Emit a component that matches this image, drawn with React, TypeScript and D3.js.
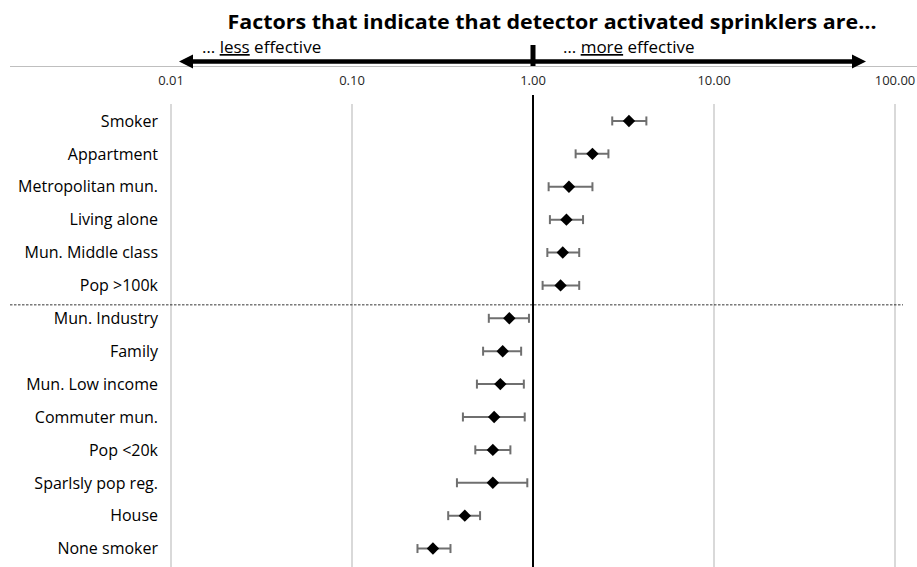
import React from "react";
import * as d3 from "d3";

// Odds ratios with confidence intervals per factor
const categories = [
  "Smoker",
  "Appartment",
  "Metropolitan mun.",
  "Living alone",
  "Mun. Middle class",
  "Pop >100k",
  "Mun. Industry",
  "Family",
  "Mun. Low income",
  "Commuter mun.",
  "Pop <20k",
  "Sparlsly pop reg.",
  "House",
  "None smoker",
];
const estimates = [3.39, 2.13, 1.58, 1.53, 1.46, 1.42, 0.74, 0.68, 0.66, 0.61, 0.6, 0.6, 0.42, 0.28];
const lowerBounds = [2.74, 1.72, 1.22, 1.24, 1.2, 1.13, 0.57, 0.53, 0.49, 0.41, 0.48, 0.38, 0.34, 0.23];
const upperBounds = [4.23, 2.61, 2.13, 1.89, 1.8, 1.8, 0.95, 0.86, 0.89, 0.9, 0.75, 0.93, 0.51, 0.35];

const tickValues = [0.01, 0.1, 1, 10, 100];
const tickLabels = ["0.01", "0.10", "1.00", "10.00", "100.00"];

// Number of factors in the upper ("more effective") group
const upperGroupSize = 6;

const W = 917;
const H = 567;
const FONT = "'Open Sans', Lato, sans-serif";

export default function App() {
  const x = d3.scaleLog().domain([0.01, 100]).range([171, 895]);
  const y = d3.scaleBand<string>().domain(categories).range([104.5, 565]);
  const half = y.bandwidth() / 2;
  const plotTop = 104;
  const arrowY = 61.5;
  const arrowLeft = x(0.01) + 8;
  const arrowRight = x(100) - 29;
  const head = 14;
  const headH = 7;
  const dividerY = (y(categories[upperGroupSize]) as number) + 3;

  return (
    <svg
      width={W}
      height={H}
      style={{ position: "absolute", left: 0, top: 0, background: "#fff" }}
      fontFamily={FONT}
    >
      {/* Title */}
      <text
        x={552}
        y={28.5}
        textAnchor="middle"
        fontSize={20}
        fontWeight="bold"
        fill="#000"
        textLength={649}
        lengthAdjust="spacingAndGlyphs"
      >
        Factors that indicate that detector activated sprinklers are…
      </text>

      {/* Direction annotations */}
      <text x={202} y={53} fontSize={17} fill="#000">
        …{" "}
        <tspan textDecoration="underline">less</tspan> effective
      </text>
      <text x={563} y={53} fontSize={17} fill="#000">
        …{" "}
        <tspan textDecoration="underline">more</tspan> effective
      </text>

      {/* Light axis line */}
      <line x1={10} x2={W} y1={66.5} y2={66.5} stroke="#bfbfbf" strokeWidth={1} />

      {/* Double-headed arrow */}
      <line
        x1={arrowLeft + head - 1}
        x2={arrowRight - head + 1}
        y1={arrowY}
        y2={arrowY}
        stroke="#000"
        strokeWidth={4.5}
      />
      <polygon
        points={`${arrowLeft},${arrowY} ${arrowLeft + head},${arrowY - headH} ${arrowLeft + head},${arrowY + headH}`}
        fill="#000"
      />
      <polygon
        points={`${arrowRight},${arrowY} ${arrowRight - head},${arrowY - headH} ${arrowRight - head},${arrowY + headH}`}
        fill="#000"
      />
      <line x1={x(1)} x2={x(1)} y1={45} y2={66} stroke="#000" strokeWidth={5} />

      {/* Tick labels */}
      {tickValues.map((t, i) => (
        <text key={t} x={x(t)} y={85} textAnchor="middle" fontSize={13} fill="#262626">
          {tickLabels[i]}
        </text>
      ))}

      {/* Gridlines */}
      {tickValues
        .filter((t) => t !== 1)
        .map((t) => (
          <line key={t} x1={x(t)} x2={x(t)} y1={plotTop} y2={H} stroke="#d9d9d9" strokeWidth={2} />
        ))}
      <line x1={x(1)} x2={x(1)} y1={95} y2={H} stroke="#000" strokeWidth={2} />

      {/* Group divider */}
      <line
        x1={10}
        x2={903}
        y1={dividerY}
        y2={dividerY}
        stroke="#000"
        strokeWidth={0.8}
        strokeDasharray="2.5,1.5"
      />

      {/* Category labels */}
      {categories.map((c) => (
        <text
          key={c}
          x={158}
          y={(y(c) as number) + half}
          dy="0.36em"
          textAnchor="end"
          fontSize={16}
          fill="#000"
        >
          {c}
        </text>
      ))}

      {/* Confidence intervals and point estimates */}
      {categories.map((c, i) => {
        const cy = (y(c) as number) + half;
        const lo = x(lowerBounds[i]);
        const hi = x(upperBounds[i]);
        const cx = x(estimates[i]);
        const r = 6.2;
        return (
          <g key={c}>
            <line x1={lo} x2={hi} y1={cy} y2={cy} stroke="#6f6f6f" strokeWidth={2} />
            <line x1={lo} x2={lo} y1={cy - 4.5} y2={cy + 4.5} stroke="#6f6f6f" strokeWidth={2} />
            <line x1={hi} x2={hi} y1={cy - 4.5} y2={cy + 4.5} stroke="#6f6f6f" strokeWidth={2} />
            <polygon
              points={`${cx},${cy - r} ${cx + r},${cy} ${cx},${cy + r} ${cx - r},${cy}`}
              fill="#000"
            />
          </g>
        );
      })}
    </svg>
  );
}
